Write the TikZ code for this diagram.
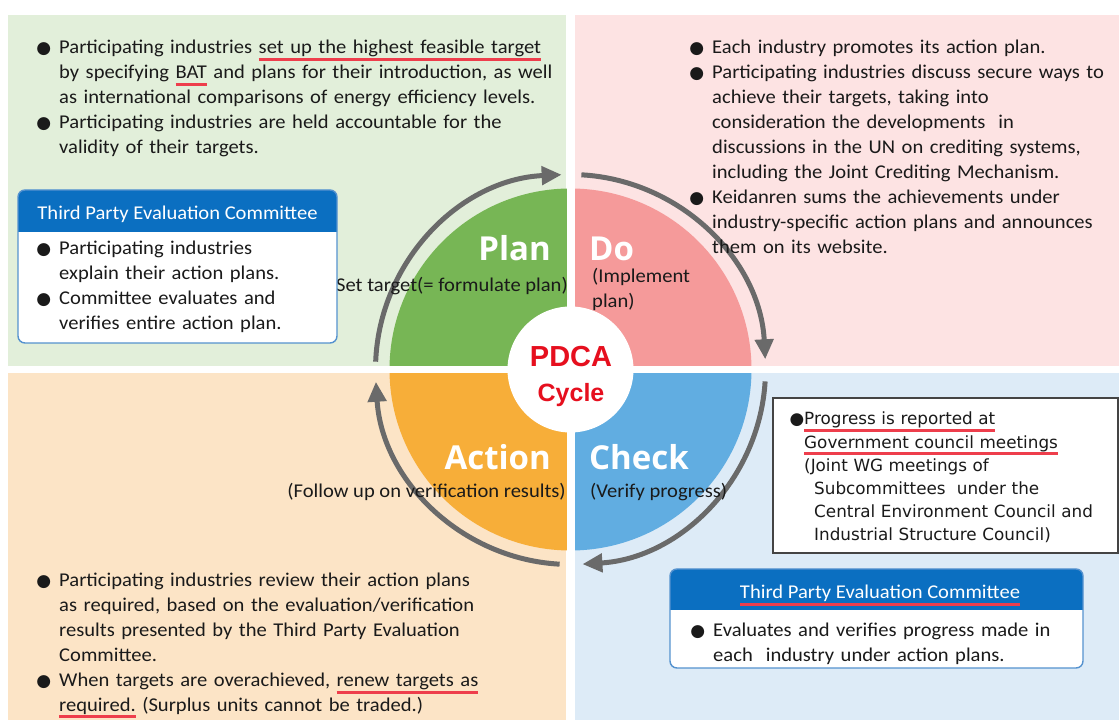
\documentclass[tikz,border=0pt]{standalone}
\usepackage{fontspec}
\usetikzlibrary{arrows.meta}
\setmainfont{Carlito}[FakeStretch=1.055]
\newfontfamily\stagefont{Open Sans}
\newfontfamily\pdcafont{Liberation Sans}
\newfontfamily\gothfont{DejaVu Sans}
\newfontfamily\bulfont{DejaVu Sans}
\definecolor{PlanBg}{HTML}{E2EFDA}
\definecolor{DoBg}{HTML}{FDE3E3}
\definecolor{CheckBg}{HTML}{DDEBF7}
\definecolor{ActBg}{HTML}{FCE4C6}
\definecolor{PlanFill}{HTML}{77B655}
\definecolor{DoFill}{HTML}{F59A9A}
\definecolor{CheckFill}{HTML}{61ADE1}
\definecolor{ActFill}{HTML}{F7AE39}
\definecolor{HdrBlue}{HTML}{0B6FC1}
\definecolor{Edge}{HTML}{5592CF}
\definecolor{Mark}{HTML}{EE3E4C}
\definecolor{Ink}{HTML}{1A1A1A}
\definecolor{Arc}{HTML}{6A6A6A}
\definecolor{PdcaRed}{HTML}{E60F1E}
\definecolor{GovEdge}{HTML}{444444}

% bullet hanging left of the text column
\newcommand\bul{\leavevmode\llap{{\bulfont\fontsize{17}{17}\selectfont ●}\hspace{8pt}}}
% red underline
\newsavebox\ulbox
\newcommand\redul[1]{\leavevmode\sbox\ulbox{#1}\rlap{\textcolor{Mark}{\rule[-7pt]{\wd\ulbox}{3pt}}}\usebox\ulbox}

\begin{document}
\begin{tikzpicture}[x=1pt,y=1pt,
    body/.style={anchor=base west,inner sep=0pt,text width=#1,align=left,text=Ink,
      font=\fontsize{19.5}{24.9}\selectfont},
    body/.default=540pt,
    stagenote/.style={inner sep=0pt,text=Ink,font=\fontsize{19.5}{24.9}\selectfont},
    stage/.style={inner sep=0pt,text=white,font=\stagefont\bfseries\fontsize{33}{33}\selectfont},
    pdca/.style={anchor=base,inner sep=0pt,text=PdcaRed,font=\pdcafont\bfseries\fontsize{#1}{#1}\selectfont},
    tphead/.style={anchor=base,inner sep=0pt,text=white,font=\fontsize{19.5}{24.9}\selectfont},
    gov/.style={anchor=base west,inner sep=0pt,text width=320pt,align=left,text=Ink,
      font=\gothfont\fontsize{16.8}{23.2}\selectfont},
    cycarrow/.style={Arc,line width=5pt,-{Triangle[length=20pt,width=18pt]}},
    tpbox/.style={draw=Edge,line width=1.4pt,rounded corners=7pt},
  ]
  \useasboundingbox (0,0) rectangle (1119,720);

  % quadrant backgrounds
  \fill[PlanBg] (8,354) rectangle (566,705);
  \fill[DoBg] (575,354) rectangle (1119,705);
  \fill[ActBg] (8,0) rectangle (566,347);
  \fill[CheckBg] (575,0) rectangle (1119,347);

  % the wheel
  \coordinate (c) at (570.5,350.5);
  \fill[PlanFill] (c) -- ++(180:181) arc[start angle=180,end angle=90,radius=181] -- cycle;
  \fill[DoFill] (c) -- ++(90:181) arc[start angle=90,end angle=0,radius=181] -- cycle;
  \fill[CheckFill] (c) -- ++(0:181) arc[start angle=0,end angle=-90,radius=181] -- cycle;
  \fill[ActFill] (c) -- ++(-90:181) arc[start angle=-90,end angle=-180,radius=181] -- cycle;
  \draw[white,line width=8pt] (570.5,165) -- (570.5,536);
  \draw[white,line width=7pt] (385,350.5) -- (756,350.5);
  \fill[white] (c) circle[radius=63];

  \draw[cycarrow] (c) ++(177.7:195) arc[start angle=177.7,end angle=92.6,radius=195];
  \draw[cycarrow] (c) ++(86.8:195) arc[start angle=86.8,end angle=3,radius=195];
  \draw[cycarrow] (c) ++(-3.5:195) arc[start angle=-3.5,end angle=-86.5,radius=195];
  \draw[cycarrow] (c) ++(-93.2:195) arc[start angle=-93.2,end angle=-176.4,radius=195];

  \node[stage,anchor=base east] (plan) at (551,459) {Plan};
  \node[stage,anchor=base west] (do) at (589,459) {Do};
  \node[stage,anchor=base east] (action) at (551,250) {Action};
  \node[stage,anchor=base west] (check) at (589,250) {Check};
  \node[pdca=29] (pdcaname) at (571,353) {PDCA};
  \node[pdca=25] (cyclename) at (571,318) {Cycle};

  \node[stagenote,anchor=base east] (plansub) at (568,428) {Set target(= formulate plan)};
  \node[body=130pt] (dosub) at (592,437) {(Implement\\plan)};
  \node[stagenote,anchor=base east] (actionsub) at (566,222) {(Follow up on verification results)};
  \node[stagenote,anchor=base west] (checksub) at (590,222) {(Verify progress)};

  % Plan
  \node[body] (plannote) at (59,666) {%
    \bul Participating industries \redul{set up the highest feasible target}\\
    by specifying \redul{BAT} and plans for their introduction,\ as well\\
    as international comparisons of energy efficiency levels.\\
    \bul Participating industries are held accountable for the\\
    validity of their targets.};

  \fill[white] (18,377) [rounded corners=7pt] rectangle (337,530);
  \fill[HdrBlue] (18,488) -- (18,523) arc[start angle=180,end angle=90,radius=7]
    -- (330,530) arc[start angle=90,end angle=0,radius=7] -- (337,488) -- cycle;
  \draw[tpbox] (18,377) rectangle (337,530);
  \node[tphead] (planpanel) at (177.5,500) {Third Party Evaluation Committee};
  \node[body=300pt] (planpanelnote) at (59,465) {%
    \bul Participating industries\\
    explain their action plans.\\
    \bul Committee evaluates and\\
    verifies entire action plan.};

  % Do
  \node[body=420pt] (donote) at (712,666) {%
    \bul Each industry promotes its action plan.\\
    \bul Participating industries discuss secure ways to\\
    achieve their targets, taking into\\
    consideration the developments\ \ in\\
    discussions in the UN on crediting systems,\\
    including the Joint Crediting Mechanism.\\
    \bul Keidanren sums the achievements under\\
    industry-specific action plans and announces\\
    them on its website.};

  % Check
  \draw[GovEdge,line width=1.2pt,fill=white] (773,167) rectangle (1118,322);
  \node[gov] (govnote) at (804,295) {%
    \llap{●}\redul{Progress is reported at}\\
    \redul{Government council meetings}\\
    (Joint WG meetings of\\
    \hspace*{10pt}Subcommittees\ \ under the\\
    \hspace*{10pt}Central Environment Council and\\
    \hspace*{10pt}Industrial Structure Council)};

  \fill[white] (670,52) [rounded corners=7pt] rectangle (1083,151);
  \fill[HdrBlue] (670,110) -- (670,144) arc[start angle=180,end angle=90,radius=7]
    -- (1076,151) arc[start angle=90,end angle=0,radius=7] -- (1083,110) -- cycle;
  \draw[tpbox] (670,52) rectangle (1083,151);
  \node[tphead] (checkpanel) at (880,121) {\redul{Third Party Evaluation Committee}};
  \node[body=370pt] (checkpanelnote) at (713,83) {%
    \bul Evaluates and verifies progress made in\\
    each\ \ industry under action plans.};

  % Action
  \node[body] (actionnote) at (59,133) {%
    \bul Participating industries review their action plans\\
    as required,\ based on the evaluation/verification\\
    results presented by the Third Party Evaluation\\
    Committee.\\
    \bul When targets are overachieved, \redul{renew targets as}\\
    \redul{required.} (Surplus units cannot be traded.)};
\end{tikzpicture}
\end{document}
